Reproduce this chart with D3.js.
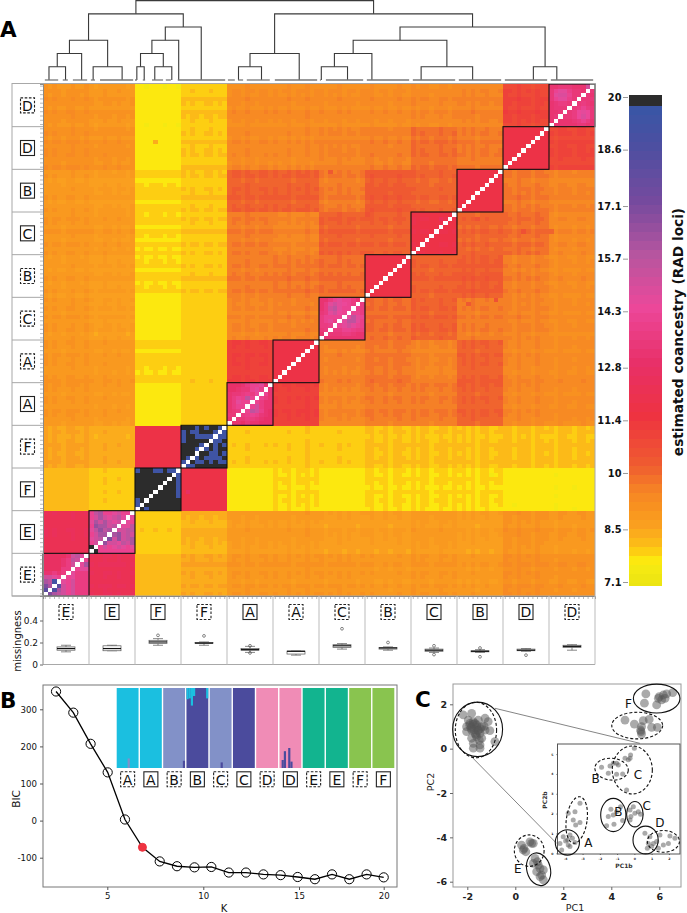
<!DOCTYPE html>
<html><head><meta charset="utf-8">
<script src="https://cdnjs.cloudflare.com/ajax/libs/d3/7.8.5/d3.min.js"></script>
<style>html,body{margin:0;padding:0;background:#fff}svg{display:block}text{font-family:"DejaVu Sans",sans-serif}</style>
</head><body><svg id="c" width="687" height="913"></svg>
<script>
// ---------- data ----------
const clusters=["E","E","F","F","A","A","C","B","C","B","D","D"];
const dashed=[1,0,0,1,0,1,1,1,0,0,0,1];
const perCluster=10;
// block means (rows and columns in cluster order)
const blockMeans=[
[13.5,12.2,8.0,8.3,8.8,8.8,8.8,8.7,8.8,8.7,9.0,8.9],
[12.2,14.5,7.9,8.2,8.7,8.7,8.6,8.6,8.7,8.6,8.9,8.8],
[8.0,7.9,21,11.6,7.6,7.7,7.6,7.7,7.7,7.7,7.6,7.5],
[8.3,8.2,11.6,20,7.85,7.85,7.85,7.9,7.9,7.9,7.9,7.9],
[8.8,8.7,7.6,7.85,13.3,11.0,9.3,9.5,9.5,10.0,9.2,9.1],
[8.8,8.7,7.7,7.85,11.0,11.6,9.4,9.6,9.3,10.0,9.2,9.1],
[8.8,8.6,7.6,7.85,9.3,9.4,13.2,9.8,10.0,9.5,9.3,9.1],
[8.7,8.6,7.7,7.9,9.5,9.6,9.8,11.6,10.0,10.1,9.4,9.1],
[8.8,8.7,7.7,7.9,9.5,9.3,10.0,10.0,11.7,9.9,9.7,9.2],
[8.7,8.6,7.7,7.9,10.0,10.0,9.5,10.1,9.9,11.6,9.5,9.3],
[9.0,8.9,7.6,7.9,9.2,9.2,9.3,9.4,9.7,9.5,11.6,10.7],
[8.9,8.8,7.5,7.9,9.1,9.1,9.1,9.1,9.2,9.3,10.7,13.3]];
// per-individual stripes, in coancestry units
const rowShift=[
.1,0,.15,-.1,.05,.1,-.05,.2,.05,.1, -.2,-.1,-.05,0,.05,.1,-.15,-.1,0,.05,
-.1,-.05,0,-.05,.05,-.1,0,.05,-.05,0, .1,.2,.15,.1,.15,.2,.1,.05,.15,.1,
-.1,0,.1,.15,-.05,.05,.1,-.1,.05,.15, .2,.1,-.05,0,.1,.05,.15,-.1,.05,.1,
0,-.15,.1,.05,-.05,.15,-.1,.1,0,.05, -.1,.15,0,-.05,.2,.05,-.1,.1,0,-.05,
.1,-.05,.15,-.1,0,.2,-.1,.05,.15,0, .15,.05,-.1,.2,.05,.1,0,-.1,.15,.1,
.2,-.05,0,.15,.1,.05,.2,-.1,.1,.05, -.1,.05,.15,.25,-.05,.1,.2,0,.05,-.1];
const colShift=[
.1,-.05,.1,0,-.1,.05,.15,0,-.05,.1, .05,-.1,0,.15,.05,-.05,.1,0,-.1,.05,
0,.05,-.05,0,.05,0,-.05,.05,0,-.05, .05,-.05,.1,0,-.05,.05,.1,-.05,.05,0,
-.05,.1,.05,-.1,.15,0,-.1,.05,.1,-.05, .1,-.05,0,.15,-.1,.05,0,.2,-.05,.05,
.1,-.1,.05,0,.15,-.05,.1,0,-.1,.05, .05,.15,-.05,0,.1,-.1,.05,.15,0,-.05,
.15,-.05,.1,.05,-.1,0,.15,.05,-.05,.1, 0,.1,-.05,.15,-.1,.05,.1,-.05,0,.05,
.2,.1,-.05,.25,.05,.1,-.1,.2,.05,0, .05,-.1,.15,.1,.05,-.05,.1,.15,0,.05];
// spots as [column individual, row individual, change]
const spots=[[62,99,.6],[86,88,.5],[94,88,.5],[70,89,.5],[104,85,.6],[110,85,.6],[98,69,.9],[92,68,.7],[24,106,.5],[31,24,.9],[97,28,-.3],[103,26,-.2],[102,21,-.2]];
// diagonal blocks read cell by cell: top row first, 30 is white, 21 is black
const cellBlocks={
0:[[12.5,12.5,12.5,12.5,12.6,13,15,15.5,14.5,30],[12.5,12.6,12.5,12.6,13,13.5,15.5,15,30,14],[12.6,12.5,12.7,12.5,13,13.5,15,30,14.5,16],[12.5,12.6,12.5,12.6,13.5,13.5,30,14,14.5,14.5],[13,13,13.5,13,13.5,30,14.5,13.5,13.5,13.5],[15,15,14.5,14,30,14,14.5,13.5,13.5,13.5],[16,15.5,19,30,14.5,14,15,13.5,13.5,13.5],[17,16,30,18,15,14,15,13.5,13.5,13.5],[18,30,18.5,16,15,14,15,13.5,13.5,13.5],[30,17,16,15.5,15,14,15,13.5,13.5,13.5]],
1:[[14,15.5,16,14,14,14.5,15,14,14,30],[14,15,16,15,14.5,15,15.5,14.5,30,14.5],[14.5,16,15,16,15,14.5,15,30,14.5,14],[14,16.5,16,16,15,15.5,30,14.5,14.5,15.5],[14.5,15.5,16.5,15.5,16,30,15,15,15.5,15.5],[14,15,16,16,30,16,16.5,15,15.5,15],[14.5,15,15.5,30,17,15,16.5,15,15.5,16],[14,15,30,16.5,15,15,14.5,15.5,15,16],[21,30,14,15,14,14.5,15,14.5,14,14.5],[30,21,14,14,14,14,14,14,14,14]],
2:[[19.3,21,21,21,19.3,19.3,21,19.3,19.3,30],[21,21,21,21,21,21,21,21,30,19.3],[21,21,21,21,21,21,21,30,21,19.3],[21,21,21,21,21,21,30,21,21,19.3],[21,21,21,21,21,30,21,21,21,19.3],[21,21,21,21,30,21,21,21,21,19.3],[21,21,21,30,21,21,21,21,21,19.3],[19.3,21,30,21,21,21,21,21,21,21],[19.3,30,21,21,21,21,21,21,21,21],[30,21,19.3,21,21,21,21,21,21,21]],
3:[[21,21,21,19.3,21,19.3,21,21,19.3,30],[19.3,21,19.3,19.3,21,21,21,19.3,30,19.3],[19.3,21,21,19.3,19.3,19.3,19.3,30,19.3,19.3],[19.3,21,21,21,21,21,30,19.3,19.3,21],[21,21,21,21,19.3,30,21,19.3,21,19.3],[21,21,21,19.3,30,19.3,21,19.3,21,21],[21,21,21,30,21,21,19.3,19.3,21,19.3],[21,19.3,30,19.3,21,19.3,19.3,19.3,19.3,21],[19.3,30,21,19.3,19.3,21,19.3,21,19.3,19.3],[30,19.3,19.3,21,21,21,21,21,21,21]],
4:[[12.8,12.8,12.9,13,13.5,14,14,14.5,13,30],[12.8,12.9,13,13.4,13.4,14,14.5,13.8,30,13],[13,13.4,13.4,13.5,13.8,13.5,14.2,30,14,13],[13,13.5,14,13.8,15.5,14,30,14,13.5,13],[13,13.6,14.5,14,14,30,14,13.5,13,13],[13,13.5,14,14,30,14,15,13.5,13,13],[13,13.4,13.5,30,14,15.5,15,13.8,13,12.8],[13.3,13.3,30,13.5,13.8,14,13.8,13.4,13,12.8],[13,30,13.2,13.4,13.5,13.5,13.4,13,12.8,12.8],[30,13,13,12.9,13.2,13,13,12.8,12.8,12.8]],
6:[[13,13,13.5,14,14.5,14,14,13.5,13,30],[13,13.5,14.5,15,14.5,14.2,14,13.5,30,13.5],[13,13.5,15,15.5,14.5,14,14,30,13.8,13.5],[13.2,13.5,14.5,15,14.3,14,30,14,14,13.5],[13.5,14,14,14,14,30,14.5,15.5,14.5,14],[13.5,14,14.5,13.8,30,14.5,15.5,15.5,14.5,13.8],[13.5,13.5,13.8,30,14,14.5,15,14.5,14,13.8],[13.2,13.5,30,13.5,13.5,14,14,13.8,13.5,13.5],[13,30,13.3,13.3,13.2,13.5,13.5,13.3,13,13],[30,13,13,13,13,13,13,13,13,13]],
11:[[13,13,13.2,13.2,13.2,13,13,13,15,30],[13.2,14,14.5,14.5,13.8,13.4,13.2,13,30,13.4],[13.2,14.5,14.8,14.8,14,13.4,13.2,30,13.2,13],[13.2,14,14.5,14.5,13.8,13.4,30,13.2,13.2,13.2],[13,13.4,13.5,13.6,13.4,30,13.4,13.5,13.3,13],[13,13.2,13.2,13.4,30,13.4,13.6,14,13.5,13.2],[13,13,13.2,30,13.2,13.6,14.2,14.6,14.2,13.2],[13,13.2,30,13.2,13.4,13.6,14.2,14.8,14.2,13.2],[13,30,13,13,13,13.4,13.6,14,13.6,13],[30,13,13,13,13,13,13.2,13.2,13,13]]};
const colourTicks=[20,18.6,17.1,15.7,14.3,12.8,11.4,10,8.5,7.1];
const colourValues=[7.0,7.4,7.6,7.75,8.0,8.5,8.9,9.4,10.1,11.4,12.8,14.3,15.7,17.1,18.6,19.8];
const colourStops=["#ece512","#f6ea12","#fde80f","#fdd410","#fcbd17","#faa01f","#f9951f","#f68524","#ef5c30","#ee3340","#e82f68","#ec489a","#b6559f","#764a9e","#4c4fa1","#3557a6"];
const colourLabel="estimated coancestry (RAD loci)";
// missingness boxplots: q1, median, q3, low whisker, high whisker, outliers
const boxQ1=[.13,.125,.19,.19,.13,.095,.155,.14,.12,.115,.125,.155];
const boxMed=[.145,.145,.205,.195,.135,.12,.17,.15,.13,.12,.13,.165];
const boxQ3=[.16,.17,.22,.2,.145,.122,.18,.155,.14,.125,.14,.175];
const boxLow=[.115,.125,.175,.175,.11,.085,.14,.13,.11,.11,.12,.13];
const boxHigh=[.175,.175,.235,.205,.165,.122,.19,.16,.15,.135,.145,.18];
const boxOut=[[],[],[.265],[.26],[.105,.17],[],[.325],[.2],[.17,.09],[.15,.07],[.085],[]];
const missTicks=[0,.2,.4];
// dendrogram: h = level, c = children, numbers = leaf position on the individual axis
const dendro={h:6,c:[
 {h:5,c:[
  {h:3,c:[{h:2,c:[{h:1,c:[1.3,4.9]},8.4]},{h:1,c:[10.9,17.2]}]},
  {h:4,c:[{h:3,c:[{h:2,c:[{h:1,c:[20.4,22]},{h:1,c:[24.3,28]}]},29.5]},34.4]}]},
 {h:5,c:[
  {h:2,c:[{h:1,c:[42.5,47.5]},55.7]},
  {h:4,c:[{h:3,c:[{h:2,c:[{h:1,c:[60.5,66.2]},71.5]},{h:1,c:[82.2,93.4]}]},{h:1,c:[106.6,111.7]}]}]}]};
const dendroStart=[.4,4.3,6.5,10.4,12.4,20,21.7,23.7,26.7,29.3,40.2,42.4,44.3,50.4,60.2,61.5,70.4,80.4,90.4,100.4,110.4];
const dendroEnd=[3.3,5.4,9.6,11.3,19.6,20.4,22.2,26.1,27.8,39.6,41.7,43.5,49.3,59.6,60.4,69.6,79.6,89.6,99.6,109.6,119.6];
// BIC curve
const bicK=[2.33,3.23,4.13,5.02,5.92,6.83,7.73,8.63,9.54,10.42,11.33,12.23,13.14,14.04,14.93,15.94,16.95,17.97,18.99,20];
const bicValue=[348,291,207,130,3,-72,-110,-123,-126,-125,-140,-140,-145,-147,-152,-158,-145,-158,-145,-153];
const bicBest=5;
const bicKTicks=[5,10,15,20];
const bicTicks=[-100,0,100,200,300];
// admixture bars
const barGroups=["A","A","B","B","C","C","D","D","E","E","F","F"];
const barDashed=[1,0,1,0,1,0,1,0,1,0,1,0];
const barBase=["#1bbfe0","#1bbfe0","#8291c8","#4b4b9d","#8291c8","#4b4b9d","#f08cb6","#f08cb6","#12b48f","#12b48f","#89c44f","#89c44f"];
const barMinorColour=["#8291c8","#8291c8","#4b4b9d","#1bbfe0","#4b4b9d","#4b4b9d","#4b4b9d","#4b4b9d","#12b48f","#12b48f","#89c44f","#89c44f"];
const barMinor=[[0,0,0,0,0,.12,0,0,0,0],[0,0,0,0,0,0,0,0,0,0],[0,0,0,0,0,0,0,0,0,.09],[.14,.13,.22,.1,0,0,0,0,0,.13],[0,0,0,0,0,.07,0,0,0,0],[0,0,0,0,0,0,0,0,0,0],[0,0,0,0,0,0,0,0,0,0],[0,.1,.21,0,.25,.08,0,0,0,0],[0,0,0,0,0,0,0,0,0,0],[0,0,0,0,0,0,0,0,0,0],[0,0,0,0,0,0,0,0,0,0],[0,0,0,0,0,0,0,0,0,0]];
// PCA, main plot
const pcaX=[-2.17,-1.82,-1.96,-1.75,-1.26,-1.13,-2.03,-1.82,-1.61,-1.40,-2.03,-1.82,-1.54,-1.26,-1.06,-1.82,-1.61,-1.40,-1.75,-1.47,-1.75,-1.47,-.85,-1.68,-1.54,-1.89,-1.68,-1.47,
-1.9,-1.75,-1.6,-1.45,-1.3,-1.72,-1.55,-1.65,-1.5,-1.85,
5.44,5.38,5.89,6.0,6.17,6.31,6.56,6.1,5.96,6.24,
4.57,4.96,5.33,5.58,5.26,5.24,5.68,5.92,5.22,5.26,
.26,.36,.44,.61,.75,.33,.68,
.82,.92,1.03,1.17,.89,1.03,1.17,.75,1.1,.96];
const pcaY=[1.52,1.59,1.29,1.22,1.37,1.22,.99,.99,1.07,.99,.77,.84,.84,.84,.81,.47,.54,.47,.24,.17,.02,.02,.32,1.14,1.29,1.14,.69,.69,
1.05,1.1,.95,.9,1.0,.85,.8,.62,.38,.92,
2.47,2.05,1.97,2.35,2.42,2.47,2.53,2.2,2.27,2.27,
1.29,1.11,1.26,1.32,.99,.77,.96,.96,.84,.66,
-4.35,-4.5,-4.65,-4.2,-4.27,-4.57,-4.27,
-4.95,-5.1,-5.4,-5.47,-5.55,-5.77,-5.92,-5.17,-5.7,-5.25];
const pcaXTicks=[-2,0,2,4,6];
const pcaYTicks=[-6,-4,-2,0,2];
// ellipses: cx, cy, rx, ry (data units), rotation, dashed
const pcaEllipses=[[-1.64,.84,.86,1.25,0,1],[-1.57,.87,1.04,1.23,0,0],[5.89,2.26,.97,.65,0,0],[5.08,1.04,1.06,.6,0,1],[.58,-4.6,.62,.71,0,1],[.97,-5.44,.49,.75,-15,0]];
const pcaLabels=[["F",4.71,2.0],["E",.1,-5.44]];
const zoomLines=[[-.85,1.82,5.19,.24],[-1.89,-.29,1.72,-4.27]];
// PCA, inset
const insetX=[-4.31,-3.98,-3.73,-3.59,-4.12,-3.83,-3.73,-4.21,-3.44,-3.86,
-3.15,-3.44,-3.83,-3.54,-3.15,-3.40,
-1.36,-.80,-1.22,-1.51,-1.61,-1.18,-.68,-1.03,
-.25,.23,.36,-.2,-.25,-.06,.03,
.61,.81,.9,1.1,1.29,.75,1.0,
1.48,2.06,2.35,1.68,1.97,1.39,
-1.9,-1.41,-1.51,-1.03,-1.03,-.68,-1.22,
0,-.22,-.35,-.54,-.25,-.93,-.45];
const insetY=[.5,.62,.92,.76,.84,.42,.34,.17,.54,.67,
2.52,2.1,2.02,1.68,1.55,1.43,
2.22,2.35,1.93,1.85,1.39,1.46,1.65,2.1,
2.18,2.1,1.97,1.85,1.68,2.35,2.02,
1.01,.5,.84,.5,.59,.25,.34,
.92,.87,.76,.42,.5,.25,
4.34,4.4,4.03,4.54,3.98,4.0,4.54,
5.29,4.96,4.71,4.79,4.79,4.45,3.19];
const insetEllipses=[[-3.88,.55,.7,.64,0,0],[-3.34,1.68,.6,1.18,8,1],[-1.22,1.93,.73,.84,0,0],[.03,1.97,.48,.64,0,0],[.65,.67,.73,.7,0,0],[1.68,.6,.93,.55,0,1],[-1.32,4.24,.97,.55,5,1],[-.12,4.2,1.16,1.21,0,1]];
const insetLabels=[["A",-2.67,.53],["B",-.93,2.1],["C",.71,2.38],["D",1.48,1.53],["B",-2.24,3.74],["C",.21,3.95]];
const insetXTicks=[-4,-3,-2,-1,0,1,2];
const insetYTicks=[0,1,2,3,4,5];

// ---------- drawing ----------
const svg=d3.select("#c");
const n=clusters.length*perCluster;
const idx=d3.range(n);
const X0=43,X1=595,Y0=84,Y1=596;
const xBand=d3.scaleBand().domain(idx).range([X0,X1]);
const yBand=d3.scaleBand().domain(idx).range([Y1,Y0]);
const xInd=d3.scaleLinear().domain([0,n]).range([X0,X1]);
const yInd=d3.scaleLinear().domain([0,n]).range([Y1,Y0]);
const baseColour=d3.scaleLinear().domain(colourValues).range(colourStops).clamp(true);
const levels=54,step=(20-7.1)/levels;
const colourOf=v=>{
  if(v>=30)return "#ffffff";
  if(v>=19.85)return "#2c2c2c";
  return baseColour(Math.round((v-7.1)/step)*step+7.1);
};
const spotMap=new Map(spots.map(s=>[s[0]+"_"+s[1],s[2]]));
function cellValue(i,j){
  const a=Math.floor(i/perCluster),b=Math.floor(j/perCluster);
  if(a===b&&cellBlocks[a]) return cellBlocks[a][perCluster-1-(j%perCluster)][i%perCluster];
  if(i===j) return 30;
  const base=blockMeans[b][a];
  const k=base>=11?.35:(base<8.2?.3:.8);
  return base+k*(rowShift[j]+colShift[i])+(spotMap.get(i+"_"+j)||0);
}
const cells=[];idx.forEach(j=>idx.forEach(i=>cells.push({i,j,v:cellValue(i,j)})));
svg.append("g").attr("shape-rendering","crispEdges").selectAll("rect").data(cells).join("rect")
 .attr("x",d=>xBand(d.i)).attr("y",d=>yBand(d.j)).attr("width",xBand.bandwidth()+.4).attr("height",yBand.bandwidth()+.4)
 .attr("fill",d=>colourOf(d.v));
// block outlines
svg.append("g").selectAll("rect").data(clusters).join("rect")
 .attr("x",(d,k)=>xInd(k*perCluster)).attr("y",(d,k)=>yInd((k+1)*perCluster))
 .attr("width",xInd(perCluster)-xInd(0)).attr("height",yInd(0)-yInd(perCluster))
 .attr("fill","none").attr("stroke","#111").attr("stroke-width",1.1);
// frame & labels for heatmap rows
const grey="#a8a8a8";
svg.append("rect").attr("x",12).attr("y",Y0-.5).attr("width",X1-12).attr("height",Y1-Y0+.5).attr("fill","none").attr("stroke",grey).attr("stroke-width",1);
svg.append("g").selectAll("line").data(d3.range(0,clusters.length)).join("line")
 .attr("x1",12).attr("x2",X0).attr("y1",k=>yInd(k*perCluster)).attr("y2",k=>yInd(k*perCluster)).attr("stroke",grey);
function boxed(g,x,y,t,dash){
  const s=g.append("g").attr("transform",`translate(${x},${y})`);
  s.append("rect").attr("x",-7).attr("y",-7.5).attr("width",14).attr("height",15).attr("fill","#fff").attr("stroke","#222").attr("stroke-width",1.1)
   .attr("stroke-dasharray",dash?"2.6,1.6":null);
  s.append("text").attr("text-anchor","middle").attr("y",5.2).attr("font-size",14).attr("fill","#111").text(t);
}
const labG=svg.append("g");
clusters.forEach((c,k)=>{
  boxed(labG,27.5,yInd((k+.5)*perCluster),c,dashed[k]);
});
// ticks around the heatmap
const axL=svg.append("g").attr("transform",`translate(${X0},0)`).call(d3.axisLeft(yBand).tickSize(3).tickFormat(""));
const axB=svg.append("g").attr("transform",`translate(0,${Y1})`).call(d3.axisBottom(xBand).tickSize(3).tickFormat(""));
[axL,axB].forEach(a=>{a.select(".domain").attr("stroke","#888");a.selectAll("line").attr("stroke","#888").attr("stroke-width",.6);});
// dendrogram
const dY=d3.scaleLinear().domain([0,6]).range([80,.6]);
const root=d3.hierarchy(dendro,d=>(d&&d.c)?d.c:null);
root.eachAfter(d=>{d.px=d.children?d3.mean(d.children,c=>c.px):d.data;d.py=d.children?d.data.h:0;});
const dG=svg.append("g").attr("fill","none").attr("stroke","#3a3a3a").attr("stroke-width",1.1);
dG.selectAll("path").data(root.descendants().filter(d=>d.children)).join("path")
 .attr("d",d=>{
   const a=d.children[0],b=d.children[1];
   return `M${xInd(a.px)},${dY(a.py)}V${dY(d.py)}H${xInd(b.px)}V${dY(b.py)}`;
 });
svg.append("g").attr("stroke","#777").attr("stroke-width",1.3).selectAll("line").data(dendroStart).join("line")
 .attr("x1",d=>xInd(d)).attr("x2",(d,k)=>xInd(dendroEnd[k])).attr("y1",dY(0)).attr("y2",dY(0));
// colour bar
const cScale=d3.scaleLinear().domain([7.1,20]).range([582,97]);
const barTop=94.5,barBottom=585;
const barLevels=d3.range(-1,levels+2).map(k=>7.1+k*step);
svg.append("g").attr("shape-rendering","crispEdges").selectAll("rect").data(barLevels).join("rect")
 .attr("x",628.5).attr("width",33.5).attr("y",d=>Math.max(barTop,cScale(d+step)))
 .attr("height",d=>Math.min(barBottom,cScale(d))-Math.max(barTop,cScale(d+step))+.5)
 .attr("fill",d=>d>=19.75?"#2c2c2c":colourOf(d));
const cAx=svg.append("g").attr("transform","translate(628,0)").call(d3.axisLeft(cScale).tickValues(colourTicks).tickSize(5).tickFormat(d=>d));
cAx.select(".domain").remove();cAx.selectAll("line").attr("stroke","#999");
cAx.selectAll("text").attr("font-size",9.8).attr("font-weight","bold").attr("fill","#111").attr("x",-6.5);
svg.append("text").attr("transform","translate(678,332) rotate(-90)").attr("text-anchor","middle").attr("dominant-baseline","central")
 .attr("font-size",13.7).attr("font-weight","bold").attr("fill","#111").text(colourLabel);
// missingness
const mY=d3.scaleLinear().domain([0,.4]).range([664.5,620.5]);
const mYBottom=664.5;
const mG=svg.append("g");
mG.append("line").attr("x1",X0).attr("x2",X1).attr("y1",mYBottom).attr("y2",mYBottom).attr("stroke",grey);
mG.selectAll("line.sep").data(d3.range(0,clusters.length+1)).join("line").attr("class","sep")
 .attr("x1",k=>xInd(k*perCluster)).attr("x2",k=>xInd(k*perCluster)).attr("y1",Y1).attr("y2",mYBottom)
 .attr("stroke",(k)=>k===0?"#888":"#bbb");
clusters.forEach((c,k)=>{
  const cx=xInd((k+.5)*perCluster);
  boxed(mG,cx,612,c,dashed[k]);
  const g=mG.append("g").attr("stroke","#555").attr("stroke-width",.7).attr("fill","none");
  g.append("line").attr("x1",cx).attr("x2",cx).attr("y1",mY(boxLow[k])).attr("y2",mY(boxHigh[k]));
  g.selectAll("line.cap").data([boxLow[k],boxHigh[k]]).join("line").attr("class","cap").attr("x1",cx-5).attr("x2",cx+5).attr("y1",d=>mY(d)).attr("y2",d=>mY(d));
  g.append("rect").attr("x",cx-9).attr("width",18).attr("y",mY(boxQ3[k])).attr("height",mY(boxQ1[k])-mY(boxQ3[k])).attr("fill","#fff");
  g.append("line").attr("x1",cx-9).attr("x2",cx+9).attr("y1",mY(boxMed[k])).attr("y2",mY(boxMed[k])).attr("stroke","#111").attr("stroke-width",1.2);
  g.selectAll("circle").data(boxOut[k]).join("circle").attr("cx",cx).attr("cy",d=>mY(d)).attr("r",1.4);
});
const mAx=svg.append("g").attr("transform",`translate(${X0},0)`).call(d3.axisLeft(mY).tickValues(missTicks).tickSize(3).tickFormat(d=>d===0?"0":d3.format(".1f")(d)));
mAx.select(".domain").remove();mAx.selectAll("line").attr("stroke","#666");
mAx.selectAll("text").attr("font-size",9).attr("fill","#111").attr("x",-5);
svg.append("text").attr("transform","translate(17,641) rotate(-90)").attr("text-anchor","middle").attr("dominant-baseline","central")
 .attr("font-size",10).attr("fill","#111").text("missingness");
// panel letters
[["A",0,37],["B",0,708],["C",415,707]].forEach(p=>svg.append("text").attr("x",p[1]).attr("y",p[2]).attr("font-size",21.5).attr("font-weight","bold").attr("fill","#000").text(p[0]));
// BIC
const bX=d3.scaleLinear().domain([5,10,15,20]).range([107.3,203.3,299,383.7]);
const bY=d3.scaleLinear().domain([-100,300]).range([857.7,709.3]);
const bT=685,bB=887,bL=43,bR=397;
svg.append("rect").attr("x",bL).attr("y",bT).attr("width",bR-bL).attr("height",bB-bT).attr("fill","#fff").attr("stroke","#777");
const barX=d3.scaleBand().domain(d3.range(barGroups.length)).range([116.7,394.3]).paddingInner(.06);
const barY=d3.scaleLinear().domain([0,1]).range([768,688]);
barGroups.forEach((g,k)=>{
  const s=svg.append("g");
  s.append("rect").attr("x",barX(k)).attr("y",barY(1)).attr("width",barX.bandwidth()).attr("height",barY(0)-barY(1)).attr("fill",barBase[k]);
  const ind=d3.scaleBand().domain(d3.range(perCluster)).range([barX(k),barX(k)+barX.bandwidth()]);
  const fromTop=k===3;
  s.selectAll("rect.m").data(barMinor[k]).join("rect").attr("class","m")
   .attr("x",(d,t)=>ind(t)).attr("width",ind.bandwidth()).attr("y",d=>fromTop?barY(1):barY(d)).attr("height",d=>barY(0)-barY(d)).attr("fill",barMinorColour[k]);
  boxed(svg,barX(k)+barX.bandwidth()/2,779.3,g,barDashed[k]);
});
const bLine=d3.line().x((d,k)=>bX(bicK[k])).y(d=>bY(d));
svg.append("path").attr("d",bLine(bicValue)).attr("fill","none").attr("stroke","#000").attr("stroke-width",1.3);
svg.append("g").selectAll("circle").data(bicValue).join("circle")
 .attr("cx",(d,k)=>bX(bicK[k])).attr("cy",d=>bY(d)).attr("r",(d,k)=>k===bicBest?4:4.6)
 .attr("fill",(d,k)=>k===bicBest?"#ee3340":"none").attr("stroke",(d,k)=>k===bicBest?"#ee3340":"#000").attr("stroke-width",1);
const bXAx=svg.append("g").attr("transform",`translate(0,${bB})`).call(d3.axisBottom(bX).tickValues(bicKTicks).tickSize(3).tickFormat(d=>d));
const bYAx=svg.append("g").attr("transform",`translate(${bL},0)`).call(d3.axisLeft(bY).tickValues(bicTicks).tickSize(3).tickFormat(d=>d));
[bXAx,bYAx].forEach(a=>{a.select(".domain").remove();a.selectAll("line").attr("stroke","#555");a.selectAll("text").attr("font-size",8.6).attr("fill","#111");});
svg.append("text").attr("x",224).attr("y",911.5).attr("text-anchor","middle").attr("font-size",10).attr("fill","#111").text("K");
svg.append("text").attr("transform","translate(16,799) rotate(-90)").attr("text-anchor","middle").attr("dominant-baseline","central").attr("font-size",10.5).attr("fill","#111").text("BIC");
// PCA main
const pX=d3.scaleLinear().domain([-2,6]).range([467.3,659.3]);
const pY=d3.scaleLinear().domain([-6,2]).range([881.7,704.3]);
const pT=684,pB=887,pL=453,pR=681;
svg.append("rect").attr("x",pL).attr("y",pT).attr("width",pR-pL).attr("height",pB-pT).attr("fill","#fff").attr("stroke","#999");
const hel="Liberation Sans, sans-serif";
const pXAx=svg.append("g").attr("transform",`translate(0,${pB})`).call(d3.axisBottom(pX).tickValues(pcaXTicks).tickSize(3).tickFormat(d=>d));
const pYAx=svg.append("g").attr("transform",`translate(${pL},0)`).call(d3.axisLeft(pY).tickValues(pcaYTicks).tickSize(3).tickFormat(d=>d));
[pXAx,pYAx].forEach(a=>{a.select(".domain").remove();a.selectAll("line").attr("stroke","#666");a.selectAll("text").attr("font-size",9.5).attr("font-family",hel).attr("font-weight","bold").attr("fill","#222");});
svg.append("text").attr("x",575).attr("y",911).attr("text-anchor","middle").attr("font-size",9.5).attr("font-family",hel).attr("fill","#222").text("PC1");
svg.append("text").attr("transform","translate(430,782) rotate(-90)").attr("text-anchor","middle").attr("dominant-baseline","central").attr("font-size",9.5).attr("font-family",hel).attr("fill","#222").text("PC2");
svg.append("g").selectAll("line").data(zoomLines).join("line")
 .attr("x1",d=>pX(d[0])).attr("y1",d=>pY(d[1])).attr("x2",d=>pX(d[2])).attr("y2",d=>pY(d[3])).attr("stroke","#777").attr("stroke-width",.9);
svg.append("g").selectAll("circle").data(pcaX).join("circle")
 .attr("cx",d=>pX(d)).attr("cy",(d,k)=>pY(pcaY[k])).attr("r",4.4).attr("fill","#555").attr("fill-opacity",.5);
function ells(xs,ys,data,w){
  svg.append("g").selectAll("ellipse").data(data).join("ellipse")
   .attr("transform",d=>`translate(${xs(d[0])},${ys(d[1])}) rotate(${d[4]})`)
   .attr("rx",d=>Math.abs(xs(d[2])-xs(0))).attr("ry",d=>Math.abs(ys(d[3])-ys(0)))
   .attr("fill","none").attr("stroke","#111").attr("stroke-width",w).attr("stroke-dasharray",d=>d[5]?"3,2":null);
}
ells(pX,pY,pcaEllipses,1.1);
svg.append("g").selectAll("text").data(pcaLabels).join("text").attr("x",d=>pX(d[1])).attr("y",d=>pY(d[2])).attr("font-size",12).attr("font-family",hel).attr("fill","#111").attr("text-anchor","middle").attr("dominant-baseline","central").text(d=>d[0]);
// PCA inset
const iL=557.5,iR=680,iT=744,iB=854;
svg.append("rect").attr("x",iL).attr("y",iT).attr("width",iR-iL).attr("height",iB-iT).attr("fill","#fff").attr("stroke","#555");
const iX=d3.scaleLinear().domain([-4,2]).range([565.3,668.9]);
const iY=d3.scaleLinear().domain([0,5]).range([853.3,754.1]);
const iXAx=svg.append("g").attr("transform",`translate(0,${iB})`).call(d3.axisBottom(iX).tickValues(insetXTicks).tickSize(1).tickFormat(d=>d));
const iYAx=svg.append("g").attr("transform",`translate(${iL},0)`).call(d3.axisLeft(iY).tickValues(insetYTicks).tickSize(1).tickFormat(d=>d));
[iXAx,iYAx].forEach(a=>{a.select(".domain").remove();a.selectAll("line").attr("stroke","#555");a.selectAll("text").attr("font-size",3.2).attr("font-family",hel).attr("font-weight","bold").attr("fill","#222");});
svg.append("text").attr("x",624).attr("y",868).attr("text-anchor","middle").attr("font-size",6).attr("font-family",hel).attr("font-weight","bold").attr("fill","#333").text("PC1b");
svg.append("text").attr("transform","translate(544,800) rotate(-90)").attr("text-anchor","middle").attr("dominant-baseline","central").attr("font-size",6).attr("font-family",hel).attr("font-weight","bold").attr("fill","#333").text("PC2b");
svg.append("g").selectAll("circle").data(insetX).join("circle")
 .attr("cx",d=>iX(d)).attr("cy",(d,k)=>iY(insetY[k])).attr("r",2.5).attr("fill","#555").attr("fill-opacity",.5);
ells(iX,iY,insetEllipses,1.1);
svg.append("g").selectAll("text").data(insetLabels).join("text").attr("x",d=>iX(d[1])).attr("y",d=>iY(d[2])).attr("font-size",12).attr("font-family",hel).attr("fill","#111").attr("text-anchor","middle").attr("dominant-baseline","central").text(d=>d[0]);
</script></body></html>
